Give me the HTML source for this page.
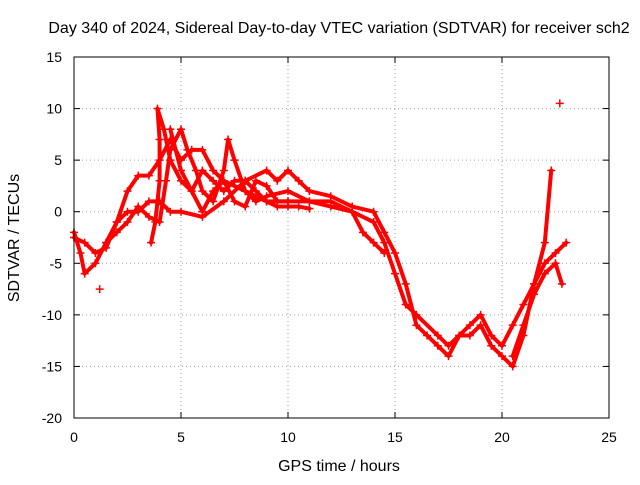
<!DOCTYPE html>
<html><head><meta charset="utf-8"><style>
body{margin:0;background:#fff;}
svg text{font-family:"Liberation Sans",sans-serif;font-size:14px;fill:#000;}
svg text.big{font-size:16px;}
</style></head><body>
<svg id="chart" width="640" height="480">
<rect width="640" height="480" fill="#fff"/>
<text class="big" x="339" y="33" text-anchor="middle">Day 340 of 2024, Sidereal Day-to-day VTEC variation (SDTVAR) for receiver sch2</text>
<text class="big" x="339" y="471" text-anchor="middle">GPS time / hours</text>
<text class="big" transform="translate(19,238) rotate(-90)" text-anchor="middle">SDTVAR / TECUs</text>
<g id="grid"></g><g id="ticks"></g><g id="marks"></g>
<rect x="74" y="57" width="535" height="361" fill="none" stroke="#000" stroke-width="1"/>
</svg>
<script>
const xTicks=[0,5,10,15,20,25];
const yTicks=[15,10,5,0,-5,-10,-15,-20];
const trackA=[[0,-2],[0.3,-4],[0.5,-6],[1,-5],[1.5,-3],[2,-1],[2.5,2],[3,3.5],[3.5,3.5],[4,5],[4.5,7],[5,5],[5.5,6],[6,6],[6.5,4],[7,3],[8,2],[9,1],[10,1],[11,1],[12,0.5],[13,0],[14,-1],[14.5,-3],[15,-6],[15.5,-9],[16,-10],[17,-12],[17.5,-13],[18,-12],[18.5,-12],[19,-11],[19.5,-13],[20,-14],[20.5,-15],[21,-12],[21.5,-7],[22,-3],[22.3,4]];
const trackB=[[0,-2.5],[0.5,-3],[1,-4],[1.5,-3.5],[2,-1],[2.5,0],[3,0],[3.5,1],[4,1],[4.5,0],[5,0],[6,-0.5],[7,1],[8,3],[9,4],[9.5,3],[10,4],[10.5,3],[11,2],[12,1.5],[13,0.5],[14,0],[14.5,-2],[15,-4],[15.5,-7],[16,-11],[16.5,-12],[17,-13],[17.5,-14],[18,-12],[18.5,-11],[19,-10],[19.5,-12],[20,-13],[20.5,-11],[21,-9],[21.5,-7],[22,-5],[22.5,-4],[23,-3]];
const trackC=[[1.5,-3],[2,-2],[2.5,-1],[3,0.5],[3.5,-0.5],[4,-1],[4.3,3],[4.5,6],[5,8],[5.3,6],[5.7,4],[6,2],[6.5,1],[7,4],[7.2,7],[7.5,5],[8,2],[8.5,1],[9,1.5],[10,2],[11,1],[12,1],[13,0],[13.5,-2],[14,-3],[14.5,-4]];
const trackD=[[3.6,-3],[3.8,-1],[4,3],[4,7],[3.9,10],[4.2,8],[4.5,5],[5,3],[5.5,2],[6,4],[6.5,3],[7,2],[7.5,3],[8,3],[8.5,2],[9,1],[9.5,0.5],[10,0.5],[10.5,0.5],[11,0.3]];
const trackE=[[4.5,8],[5,4],[5.5,2],[6,0],[6.5,2],[7,3],[7.5,1],[8,0.5],[8.5,3],[9,2.5],[9.5,1],[10,1]];
const trackF=[[20.5,-14],[21,-11],[21.5,-8],[22,-6],[22.5,-5],[22.8,-7]];
const isolated=[[1.2,-7.5],[22.7,10.5]];
const NS="http://www.w3.org/2000/svg";
const X=v=>74+v*(535/25);
const Y=v=>57+(15-v)*(361/35);
function mk(tag,attrs,parent){const e=document.createElementNS(NS,tag);for(const k in attrs)e.setAttribute(k,attrs[k]);parent.appendChild(e);return e;}
const grid=document.getElementById('grid'),ticks=document.getElementById('ticks'),marks=document.getElementById('marks');
xTicks.forEach(t=>{
 if(t>0&&t<25){const g=mk('line',{x1:X(t),x2:X(t),y1:57,y2:418,stroke:'#a0a0a0','stroke-dasharray':'1,3'},grid);
 
 }
 const l=mk('text',{x:X(t),y:442,'text-anchor':'middle'},ticks);l.textContent=t;
 
 
 mk('line',{x1:X(t),x2:X(t),y1:418,y2:412,stroke:'#000'},ticks);
 mk('line',{x1:X(t),x2:X(t),y1:57,y2:63,stroke:'#000'},ticks);
});
yTicks.forEach(t=>{
 if(t<15&&t>-20){const g=mk('line',{x1:74,x2:609,y1:Y(t),y2:Y(t),stroke:'#a0a0a0','stroke-dasharray':'1,3'},grid);
 
 }
 const l=mk('text',{x:62,y:Y(t)+5,'text-anchor':'end'},ticks);l.textContent=t;
 
 
 mk('line',{x1:74,x2:80,y1:Y(t),y2:Y(t),stroke:'#000'},ticks);
 mk('line',{x1:609,x2:603,y1:Y(t),y2:Y(t),stroke:'#000'},ticks);
});
function plus(p){const x=X(p[0]),y=Y(p[1]);
 const m=mk('path',{d:`M${x-4},${y}H${x+4}M${x},${y-4}V${y+4}`,stroke:'#f00','stroke-width':1.5},marks);
 
 }
[trackA,trackB,trackC,trackD,trackE,trackF].forEach(tr=>{
 const pl=mk('polyline',{points:tr.map(p=>X(p[0])+','+Y(p[1])).join(' '),fill:'none',stroke:'#f00','stroke-width':4,'stroke-linejoin':'round','stroke-linecap':'round'},marks);
 
 
 tr.forEach(plus);
});
isolated.forEach(plus);
</script>
</body></html>
